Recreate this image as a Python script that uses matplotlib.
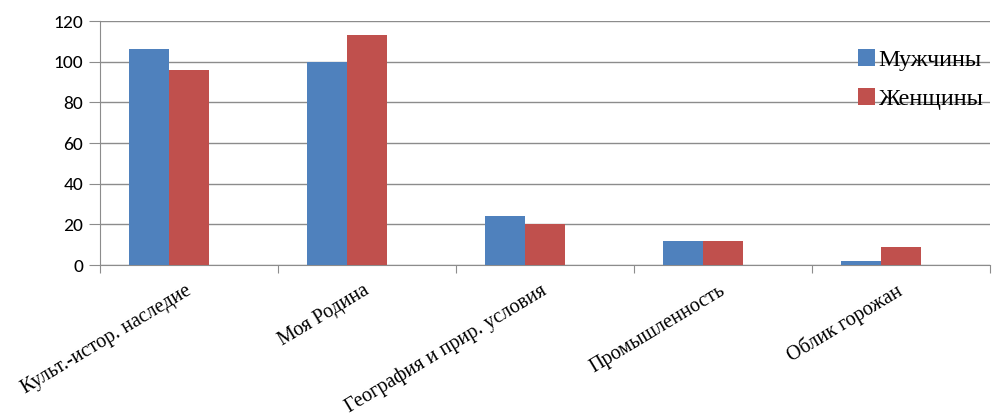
import numpy as np
import matplotlib
matplotlib.use("Agg")
import matplotlib.pyplot as plt
from matplotlib.font_manager import FontProperties

# данные
categories = ["Культ.-истор. наследие", "Моя Родина", "География и прир. условия",
              "Промышленность", "Облик горожан"]
men = [106, 100, 24, 12, 2]
women = [96, 113, 20, 12, 9]
series_names = ["Мужчины", "Женщины"]
yticks = [0, 20, 40, 60, 80, 100, 120]

BLUE = "#4F81BD"
RED = "#C0504D"
GRID = "#8c8c8c"

serif_lbl = FontProperties(family=["Liberation Serif", "DejaVu Serif"], size=14.5)
serif_leg = FontProperties(family=["Liberation Serif", "DejaVu Serif"], size=17.5)
sans = FontProperties(family=["Carlito", "DejaVu Sans"], size=14)

fig = plt.figure(figsize=(10.05, 4.2), dpi=100)
ax = fig.add_axes([100 / 1005, 1 - 265 / 420, 890 / 1005, 244 / 420])

x = np.arange(len(categories))
w = 0.225  # в Excel была третья (пустая) серия, поэтому пара смещена влево
ax.bar(x - w, men, width=w, color=BLUE, label=series_names[0], zorder=3)
ax.bar(x, women, width=w, color=RED, label=series_names[1], zorder=3)

ax.set_xlim(-0.5, len(categories) - 0.5)
ax.set_ylim(0, 120)
ax.set_yticks(yticks)
ax.set_yticklabels([str(v) for v in yticks], fontproperties=sans)
ax.yaxis.grid(True, color=GRID, linewidth=1, zorder=0)
ax.set_axisbelow(True)

# разделители категорий внизу
ax.set_xticks(np.arange(len(categories) + 1) - 0.5)
ax.set_xticklabels([])
ax.tick_params(axis="x", direction="out", length=6, color=GRID)
ax.tick_params(axis="y", direction="out", length=8, color=GRID, pad=4)
for i, c in enumerate(categories):
    ax.text(i + 0.03, -8, c, rotation=31, ha="right", va="top",
            fontproperties=serif_lbl)

for s in ["top", "right"]:
    ax.spines[s].set_visible(False)
ax.spines["left"].set_color(GRID)
ax.spines["bottom"].set_color(GRID)

fig.legend(loc="upper left", bbox_to_anchor=(836 / 1005, 1 - 27 / 420),
           frameon=False, handlelength=0.7, handleheight=0.7, handletextpad=0.15,
           labelspacing=0.7, prop=serif_leg)

fig.savefig("out.png", dpi=100)
